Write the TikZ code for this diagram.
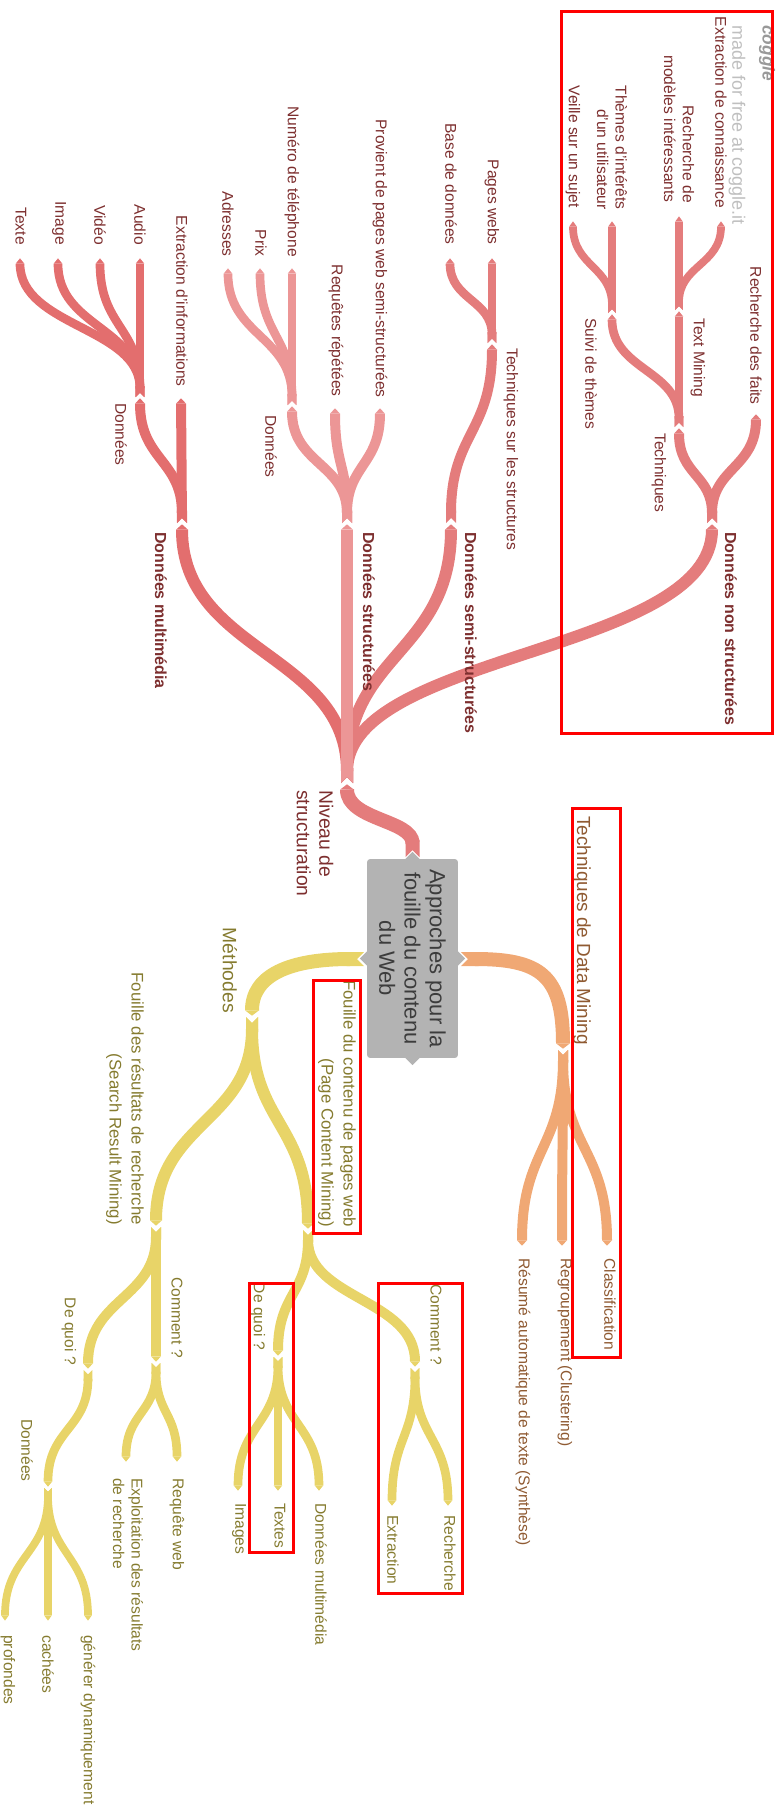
\documentclass[tikz,border=0pt]{standalone}
\usepackage{fontspec}
\setmainfont{Liberation Sans}
\usetikzlibrary{arrows.meta,calc}
\definecolor{redline}{HTML}{E47C7C}
\definecolor{redsoft}{HTML}{EC9696}
\definecolor{reddeep}{HTML}{E36E6E}
\definecolor{redtext}{HTML}{7D2F2F}
\definecolor{orgline}{HTML}{F0A874}
\definecolor{orgtext}{HTML}{8F5A32}
\definecolor{ylwline}{HTML}{E8D468}
\definecolor{ylwtext}{HTML}{857B2F}
\definecolor{hubgray}{HTML}{B3B3B3}
\definecolor{hubtext}{HTML}{3C3C3C}
\begin{document}
\begin{tikzpicture}[x=0.75pt,y=-0.75pt,
	lbl/.style={rotate=-90,inner sep=0pt,font=\fontsize{11.7}{14}\selectfont},
	lone/.style={lbl,font=\fontsize{14.5}{17}\selectfont},
	ltwo/.style={lbl,font=\fontsize{12.6}{16.5}\selectfont},
	lbold/.style={lbl,font=\fontsize{12}{14}\selectfont\bfseries},
	hub/.style={rotate=-90,fill=hubgray,text=hubtext,rounded corners=2pt,align=center,
		minimum width=149pt,minimum height=68pt,inner sep=0pt,font=\fontsize{16.5}{19}\selectfont},
	limb/.style={line cap=butt,{Triangle Cap[reversed]}-{Triangle[length=4pt,width=0pt 1,line width=0pt]},shorten >=1pt},
	trunk/.style={limb,line width=10.5pt},
	bough/.style={limb,line width=9pt},
	twig/.style={limb,line width=7.5pt},
	sprig/.style={limb,line width=6.5pt},
	leaf/.style={limb,line width=5.8pt},
	sc/.style={to path={let \p1=(\tikztostart),\p2=(\tikztotarget) in
		.. controls (\x1,{0.5*\y1+0.5*\y2}) and (\x2,{0.5*\y1+0.5*\y2}) .. (\tikztotarget)}},
	annot/.style={draw=red,line width=2.25pt}]
	\useasboundingbox (0,0) rectangle (780,1816);

	\node[hub] (hub) at (412.5,958.5) {Approches pour la\\fouille du contenu\\du Web};
	\fill[hubgray] (hub.west) +(-8,1) -- +(0,-7) -- +(8,1) -- cycle;
	\fill[hubgray] (hub.east) +(-8,-1) -- +(0,7) -- +(8,-1) -- cycle;
	\fill[hubgray] (hub.south) +(1,-8) -- +(-7,0) -- +(1,8) -- cycle;
	\fill[hubgray] (hub.north) +(-1,-8) -- +(7,0) -- +(-1,8) -- cycle;

	\path (412.5,857) coordinate (rootN)
		(347,783) coordinate (niveau)
		(182,523) coordinate (multi)
		(347,523) coordinate (struct)
		(451,523) coordinate (semi)
		(712,523) coordinate (nonstr)
		(181,397) coordinate (extrInfo)
		(140,397) coordinate (mmData)
		(140,257) coordinate (audio)
		(100,257) coordinate (video)
		(58,257) coordinate (image)
		(20,257) coordinate (texte)
		(335,407) coordinate (requetes)
		(380,407) coordinate (provient)
		(292,405) coordinate (stData)
		(292,267) coordinate (numero)
		(260,267) coordinate (prix)
		(228,267) coordinate (adresses)
		(492,343) coordinate (techStr)
		(492,257) coordinate (pages)
		(450,257) coordinate (base)
		(679,427) coordinate (techs)
		(756,413) coordinate (faits)
		(679,310) coordinate (textMin)
		(612,313) coordinate (suivi)
		(679,215) coordinate (modeles)
		(721,220) coordinate (connais)
		(612,220) coordinate (themes)
		(573,220) coordinate (veille);

	\begin{scope}[draw=redline,text=redtext]
	\draw[trunk] (rootN) to[sc] (niveau);
	\draw[bough] (niveau) to[sc] (nonstr);
	\draw[bough] (niveau) to[sc] (semi);
	\draw[bough,draw=reddeep] (niveau) to[sc] (multi);
	\draw[bough,draw=redsoft] (niveau) -- (struct);
	\draw[twig,draw=reddeep] (multi) -- (extrInfo);
	\draw[twig,draw=reddeep] (multi) to[sc] (mmData);
	\foreach \tip in {texte,image,video,audio}
		\draw[sprig,draw=reddeep] (mmData) to[sc] (\tip);
	\foreach \tip in {requetes,provient,stData}
		\draw[twig,draw=redsoft] (struct) to[sc] (\tip);
	\foreach \tip in {adresses,prix,numero}
		\draw[sprig,draw=redsoft] (stData) to[sc] (\tip);
	\draw[twig] (semi) to[sc] (techStr);
	\draw[sprig] (techStr) -- (pages);
	\draw[sprig] (techStr) to[sc] (base);
	\draw[twig] (nonstr) to[sc] (techs);
	\draw[twig] (nonstr) to[sc] (faits);
	\draw[sprig] (techs) -- (textMin);
	\draw[sprig] (techs) to[sc] (suivi);
	\draw[leaf] (textMin) -- (modeles);
	\draw[leaf] (textMin) to[sc] (connais);
	\draw[leaf] (suivi) -- (themes);
	\draw[leaf] (suivi) to[sc] (veille);

	\node[lone,anchor=west,align=left] (lNiveau) at (315,790) {Niveau de\\structuration};
	\node[lbold,anchor=west] (lMulti) at (161,532) {Données multimédia};
	\node[lbold,anchor=west] (lStruct) at (369,532) {Données structurées};
	\node[lbold,anchor=west] (lSemi) at (471,532) {Données semi-structurées};
	\node[lbold,anchor=west] (lNon) at (731,532) {Données non structurées};
	\node[lbl,anchor=east] (lExtr) at (182,387) {Extraction d'informations};
	\node[lbl,anchor=west] (lmmData) at (121,403) {Données};
	\node[lbl,anchor=east] (lAudio) at (140,245) {Audio};
	\node[lbl,anchor=east] (lVideo) at (100,245) {Vidéo};
	\node[lbl,anchor=east] (lImage) at (59,245) {Image};
	\node[lbl,anchor=east] (lTexte) at (21,245) {Texte};
	\node[lbl,anchor=east] (lReq) at (336,397) {Requêtes répétées};
	\node[lbl,anchor=east] (lProv) at (380,398) {Provient de pages web semi-structurées};
	\node[lbl,anchor=west] (lstData) at (271,415) {Données};
	\node[lbl,anchor=east] (lNum) at (292,257) {Numéro de téléphone};
	\node[lbl,anchor=east] (lPrix) at (261,257) {Prix};
	\node[lbl,anchor=east] (lAdr) at (228,257) {Adresses};
	\node[lbl,anchor=west] (lTechStr) at (511,348) {Techniques sur les structures};
	\node[lbl,anchor=east] (lPages) at (492,245) {Pages webs};
	\node[lbl,anchor=east] (lBase) at (451,245) {Base de données};
	\node[lbl,anchor=west] (lTechs) at (659,433) {Techniques};
	\node[lbl,anchor=east] (lFaits) at (756,405) {Recherche des faits};
	\node[lbl,anchor=west] (lTextMin) at (698,318) {Text Mining};
	\node[lbl,anchor=west] (lSuivi) at (591,318) {Suivi de thèmes};
	\node[lbl,anchor=east,align=right] (lModeles) at (679,203) {Recherche de\\modèles intéressants};
	\node[lbl,anchor=east] (lConnais) at (721,208) {Extraction de connaissance};
	\node[lbl,anchor=east,align=right] (lThemes) at (612,210) {Thèmes d'intérêts\\d'un utilisateur};
	\node[lbl,anchor=east] (lVeille) at (573,208) {Veille sur un sujet};
	\end{scope}

	\node[lbl,anchor=west,text=black!25,font=\fontsize{13.5}{16}\selectfont] (madeFor) at (737,25) {made for free at coggle.it};
	\node[lbl,anchor=west,text=black!40,font=\fontsize{13}{15}\selectfont\bfseries\itshape] (logo) at (767,25) {coggle};

	\path (461,959) coordinate (rootE)
		(364,959) coordinate (rootW)
		(563,1050) coordinate (dataMin)
		(607,1247) coordinate (classif)
		(562,1247) coordinate (regroup)
		(522,1247) coordinate (resume)
		(252,1017) coordinate (methodes)
		(308,1230) coordinate (pageCont)
		(156,1227) coordinate (searchRes)
		(278,1357) coordinate (pcQuoi)
		(415,1368) coordinate (pcComment)
		(238,1492) coordinate (images)
		(278,1492) coordinate (textes)
		(319,1492) coordinate (pcMulti)
		(392,1507) coordinate (extraction)
		(448,1507) coordinate (recherche)
		(156,1363) coordinate (srComment)
		(88,1370) coordinate (srQuoi)
		(126,1463) coordinate (exploit)
		(177,1463) coordinate (requete)
		(48,1488) coordinate (srData)
		(5,1622) coordinate (profondes)
		(48,1622) coordinate (cachees)
		(88,1622) coordinate (generer);

	\begin{scope}[draw=orgline,text=orgtext]
	\draw[trunk] (rootE) .. controls (540,959) and (563,975) .. (dataMin);
	\foreach \tip in {classif,regroup,resume}
		\draw[twig] (dataMin) to[sc] (\tip);
	\node[lone,anchor=east,font=\fontsize{14.2}{17}\selectfont] (lDataMin) at (582,1045) {Techniques de Data Mining};
	\node[lbl,anchor=west] (lClassif) at (610,1258) {Classification};
	\node[lbl,anchor=west] (lRegroup) at (565,1258) {Regroupement (Clustering)};
	\node[lbl,anchor=west] (lResume) at (523,1258) {Résumé automatique de texte (Synthèse)};
	\end{scope}

	\begin{scope}[draw=ylwline,text=ylwtext]
	\draw[trunk] (rootW) .. controls (290,959) and (252,975) .. (methodes);
	\draw[bough] (methodes) to[sc] (pageCont);
	\draw[bough] (methodes) to[sc] (searchRes);
	\draw[twig] (pageCont) to[sc] (pcQuoi);
	\draw[twig] (pageCont) to[sc] (pcComment);
	\foreach \tip in {images,textes,pcMulti}
		\draw[sprig] (pcQuoi) to[sc] (\tip);
	\foreach \tip in {extraction,recherche}
		\draw[sprig] (pcComment) to[sc] (\tip);
	\draw[twig] (searchRes) -- (srComment);
	\draw[twig] (searchRes) to[sc] (srQuoi);
	\foreach \tip in {exploit,requete}
		\draw[sprig] (srComment) to[sc] (\tip);
	\draw[sprig] (srQuoi) to[sc] (srData);
	\foreach \tip in {profondes,cachees,generer}
		\draw[leaf] (srData) to[sc] (\tip);

	\node[lone,anchor=east] (lMethodes) at (230,1013) {Méthodes};
	\node[ltwo,anchor=east,align=right] (lPageCont) at (337,1227) {Fouille du contenu de pages web\\(Page Content Mining)};
	\node[ltwo,anchor=east,align=right] (lSearchRes) at (125,1225) {Fouille des résultats de recherche\\(Search Result Mining)};
	\node[lbl,anchor=east] (lpcQuoi) at (258,1350) {De quoi ?};
	\node[lbl,anchor=east] (lpcComment) at (436,1365) {Comment ?};
	\node[lbl,anchor=west] (lImages) at (239,1503) {Images};
	\node[lbl,anchor=west] (lTextes) at (280,1503) {Textes};
	\node[lbl,anchor=west] (lpcMulti) at (321,1503) {Données multimédia};
	\node[lbl,anchor=west] (lRecherche) at (450,1515) {Recherche};
	\node[lbl,anchor=west] (lExtraction) at (393,1515) {Extraction};
	\node[lbl,anchor=east] (lsrComment) at (177,1358) {Comment ?};
	\node[lbl,anchor=east] (lsrQuoi) at (69,1365) {De quoi ?};
	\node[lbl,anchor=west] (lRequete) at (177,1478) {Requête web};
	\node[lbl,anchor=west,align=left] (lExploit) at (128,1478) {Exploitation des résultats\\de recherche};
	\node[lbl,anchor=east] (lsrData) at (27,1482) {Données};
	\node[lbl,anchor=west] (lProfondes) at (8,1635) {profondes};
	\node[lbl,anchor=west] (lCachees) at (48,1635) {cachées};
	\node[lbl,anchor=west] (lGenerer) at (88,1635) {générer dynamiquement};
	\end{scope}

	\draw[annot] (561,12) rectangle (772,733);
	\draw[annot] (572,808) rectangle (620,1357);
	\draw[annot] (313,980) rectangle (360,1233);
	\draw[annot] (249,1283) rectangle (293,1552);
	\draw[annot] (378,1283) rectangle (462,1593);
\end{tikzpicture}
\end{document}
